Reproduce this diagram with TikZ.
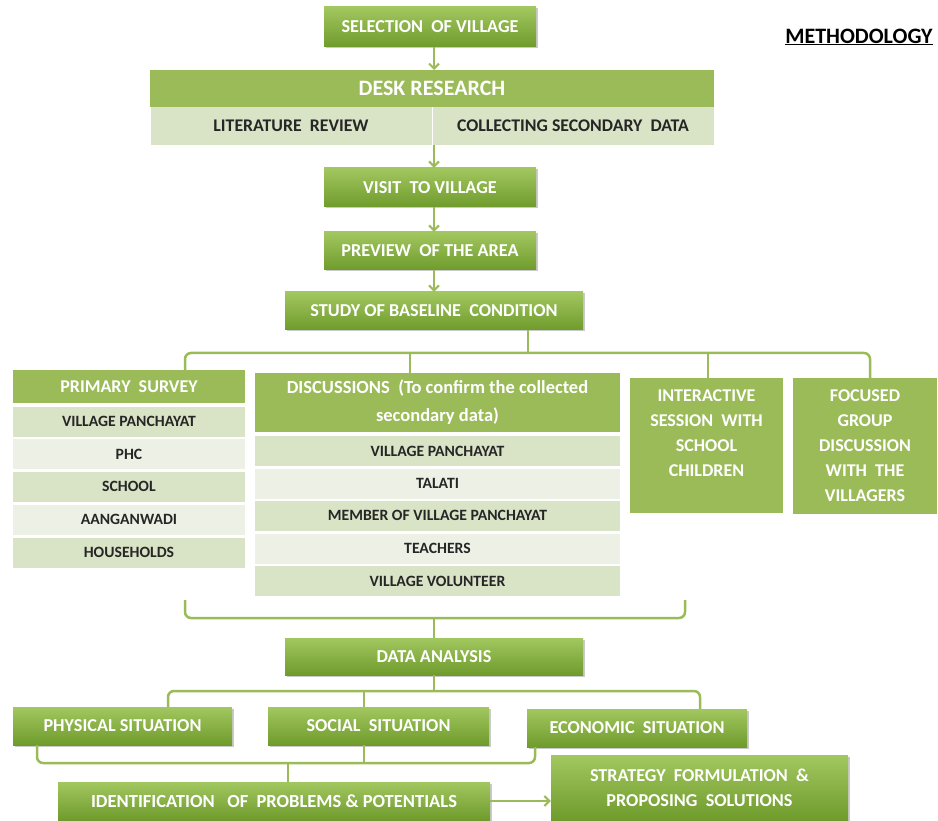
\documentclass[tikz,border=0pt]{standalone}
\usepackage{fontspec}
\setmainfont{Carlito}
\usetikzlibrary{shadows,arrows.meta}
\definecolor{gTop}{HTML}{A2C760}
\definecolor{gBot}{HTML}{6F9B2C}
\definecolor{gFlat}{HTML}{9BBB59}
\definecolor{rowA}{HTML}{D9E3C6}
\definecolor{rowB}{HTML}{EDF1E5}
\definecolor{lineG}{HTML}{9BBB59}
\tikzset{
  gbox/.style={rectangle, top color=gTop, bottom color=gBot, text=white, inner sep=0pt,
    font=\bfseries\fontsize{18.2}{25}\selectfont, align=center,
    drop shadow={shadow xshift=1.5pt, shadow yshift=-1.5pt, opacity=0.35, fill=black!60}},
  flatbox/.style={rectangle, fill=gFlat, text=white, inner sep=0pt, align=center,
    font=\bfseries\fontsize{18}{25}\selectfont},
  rowdark/.style={rectangle, fill=rowA, text=black!85, inner sep=0pt,
    font=\bfseries\fontsize{15.7}{16}\selectfont},
  rowlight/.style={rowdark, fill=rowB},
  conn/.style={draw=lineG, line width=2.5pt, rounded corners=6pt},
  arr/.style={draw=lineG, line width=2pt, -{Straight Barb[length=5pt,width=10pt,line width=2pt]}},
  wtext/.style={text=white, inner sep=0pt, align=center, font=\bfseries\fontsize{18}{25}\selectfont}
}
\begin{document}
\begin{tikzpicture}[x=1pt,y=-1pt]
\useasboundingbox (0,0) rectangle (938,821);

% title
\node[inner sep=0pt, font=\bfseries\fontsize{22}{26}\selectfont] (title) at (859,37) {\underline{METHODOLOGY}};

% top chain
\node[gbox, minimum width=212pt, minimum height=40pt] (sel) at (430,27) {SELECTION~ OF VILLAGE};
\node[flatbox, minimum width=564pt, minimum height=37pt, font=\bfseries\fontsize{22}{25}\selectfont] (desk) at (432,88.5) {DESK RESEARCH};
\node[rowdark, minimum width=281pt, minimum height=38pt, font=\bfseries\fontsize{17.8}{20}\selectfont] (lit) at (291,126) {LITERATURE~ REVIEW};
\node[rowdark, minimum width=281pt, minimum height=38pt, font=\bfseries\fontsize{17.8}{20}\selectfont] (col) at (573,126) {COLLECTING SECONDARY~ DATA};
\node[gbox, minimum width=212pt, minimum height=39pt] (visit) at (430,187.5) {VISIT~ TO VILLAGE};
\node[gbox, minimum width=212pt, minimum height=38pt] (prev) at (430,251) {PREVIEW~ OF THE AREA};
\node[gbox, minimum width=298pt, minimum height=38pt] (study) at (434,311) {STUDY OF BASELINE~ CONDITION};

\draw[arr] (sel.south -| 434,0) -- (434,70);
\draw[arr] (434,145) -- (visit.north -| 434,0);
\draw[arr] (visit.south -| 434,0) -- (prev.north -| 434,0);
\draw[arr] (prev.south -| 434,0) -- (study.north -| 434,0);

% primary survey
\node[flatbox, minimum width=232pt, minimum height=33pt] (prim) at (129,386.5) {PRIMARY~ SURVEY};
\node[rowdark, minimum width=232pt, minimum height=30pt] (p1) at (129,421.5) {VILLAGE PANCHAYAT};
\node[rowlight, minimum width=232pt, minimum height=30pt] (p2) at (129,454) {PHC};
\node[rowdark, minimum width=232pt, minimum height=30pt] (p3) at (129,486.5) {SCHOOL};
\node[rowlight, minimum width=232pt, minimum height=30pt] (p4) at (129,519.5) {AANGANWADI};
\node[rowdark, minimum width=232pt, minimum height=30pt] (p5) at (129,552.5) {HOUSEHOLDS};

% discussions
\node[flatbox, minimum width=365pt, minimum height=59pt, font=\bfseries\fontsize{18.5}{28}\selectfont] (disc) at (437.5,402.5) {DISCUSSIONS~ (To confirm the collected\\secondary data)};
\node[rowdark, minimum width=365pt, minimum height=30pt] (d1) at (437.5,451) {VILLAGE PANCHAYAT};
\node[rowlight, minimum width=365pt, minimum height=30pt] (d2) at (437.5,483.5) {TALATI};
\node[rowdark, minimum width=365pt, minimum height=30pt] (d3) at (437.5,515.5) {MEMBER OF VILLAGE PANCHAYAT};
\node[rowlight, minimum width=365pt, minimum height=30pt] (d4) at (437.5,548.5) {TEACHERS};
\node[rowdark, minimum width=365pt, minimum height=30pt] (d5) at (437.5,581) {VILLAGE VOLUNTEER};

% interactive and focused
\node[flatbox, minimum width=153pt, minimum height=135pt] (inter) at (706.5,445.5) {};
\node[wtext, anchor=north] (interT) at (706.5,389) {INTERACTIVE\\SESSION~ WITH\\SCHOOL\\CHILDREN};
\node[flatbox, minimum width=144pt, minimum height=136pt] (foc) at (865,446) {FOCUSED\\GROUP\\DISCUSSION\\WITH~ THE\\VILLAGERS};

% top brace
\coordinate (bt) at (528,353);
\draw[conn] (185,370) -- (185,353) -- (870,353) -- (870,378);
\draw[conn] (study.south -| bt) -- (bt);
\draw[conn] (410,353) -- (disc.north -| 410,0);
\draw[conn] (708,353) -- (inter.north -| 708,0);

% lower brace
\coordinate (lb1) at (185,600);
\coordinate (lb2) at (685,600);
\node[gbox, minimum width=298pt, minimum height=37pt] (data) at (434,656.5) {DATA ANALYSIS};
\draw[conn] (lb1) -- (185,618) -- (685,618) -- (lb2);
\draw[conn] (434,618) -- (data.north -| 434,0);

% situations
\node[gbox, minimum width=219pt, minimum height=38pt] (phys) at (122.5,726) {PHYSICAL SITUATION};
\node[gbox, minimum width=221pt, minimum height=38pt] (soc) at (378.5,726) {SOCIAL~ SITUATION};
\node[gbox, minimum width=220pt, minimum height=38pt] (eco) at (637,728) {ECONOMIC~ SITUATION};
\draw[conn] (phys.north -| 168,0) -- (168,691) -- (700,691) -- (eco.north -| 700,0);
\draw[conn] (data.south -| 434,0) -- (434,691);
\draw[conn] (364,691) -- (soc.north -| 364,0);

% identification and strategy
\node[gbox, minimum width=432pt, minimum height=38pt, font=\bfseries\fontsize{18.5}{25}\selectfont] (ident) at (274,801) {IDENTIFICATION~~ OF~ PROBLEMS \& POTENTIALS};
\node[gbox, minimum width=297pt, minimum height=65pt] (strat) at (699.5,787.5) {STRATEGY~ FORMULATION~ \&\\PROPOSING~ SOLUTIONS};
\draw[conn] (phys.south -| 37,0) -- (37,763) -- (535,763) -- (eco.south -| 535,0);
\draw[conn] (soc.south -| 364,0) -- (364,763);
\draw[conn] (288,763) -- (ident.north -| 288,0);
\draw[arr, line width=2.5pt] (ident.east) -- (ident.east -| strat.west);
\end{tikzpicture}
\end{document}
